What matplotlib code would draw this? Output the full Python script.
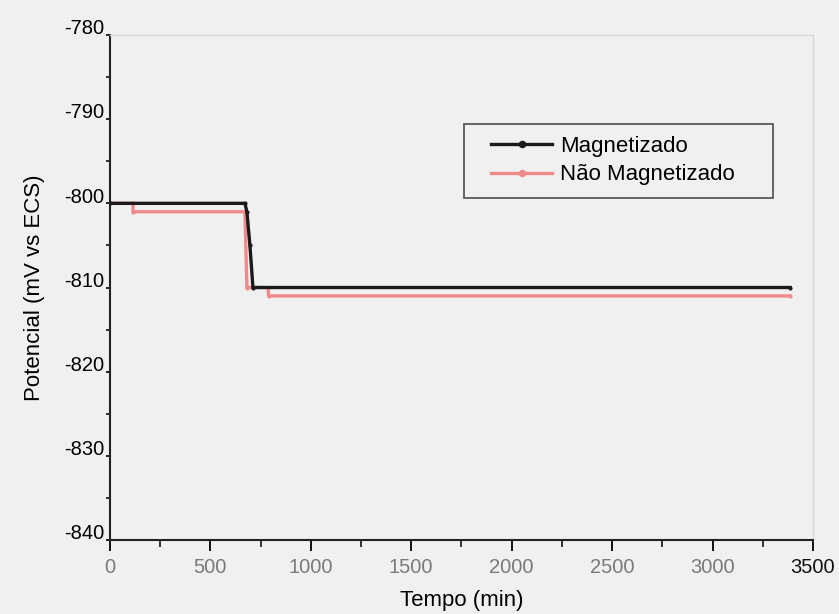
import matplotlib
matplotlib.use("Agg")
import matplotlib.pyplot as plt
import matplotlib.transforms as mtransforms
from matplotlib.ticker import MultipleLocator
from matplotlib.legend_handler import HandlerLine2D

plt.rcParams['font.family'] = ['Liberation Sans', 'DejaVu Sans']
plt.rcParams['axes.unicode_minus'] = False

# Vertices (time in min, potential in mV vs ECS)
t_mag = [0, 672, 682, 697, 712, 3386]
v_mag = [-800, -800, -801, -805, -810, -810]

t_nmag = [0, 115, 115, 672, 682, 787, 790, 3386]
v_nmag = [-800, -800, -801, -801, -810, -810, -811, -811]

x_ticks = [0, 500, 1000, 1500, 2000, 2500, 3000, 3500]
y_ticks = [-840, -830, -820, -810, -800, -790, -780]


class LeadHandler(HandlerLine2D):
    """Legend line that leaves a small gap on its left."""
    def get_xdata(self, legend, xdescent, ydescent, width, height, fontsize):
        lead = 0.2 * width
        x0 = -xdescent + lead
        x1 = -xdescent + width
        return [x0, x1], [0.5 * (x0 + x1)]


bg = '#f0f0f0'
fig = plt.figure(figsize=(8.39, 6.14), dpi=100, facecolor=bg)
ax = fig.add_axes([0.131, 0.1205, 0.838, 0.8225], facecolor=bg)

ax.plot(t_nmag, v_nmag, color='#f08a8a', lw=2.4, marker='o', ms=2,
        label='Não Magnetizado')
ax.plot(t_mag, v_mag, color='#1a1a1a', lw=2.4, marker='o', ms=2,
        label='Magnetizado')

ax.set_xlim(0, 3500)
ax.set_ylim(-840, -780)
ax.set_xticks(x_ticks)
ax.set_yticks(y_ticks)
ax.xaxis.set_minor_locator(MultipleLocator(250))
ax.yaxis.set_minor_locator(MultipleLocator(5))
ax.tick_params(axis='x', which='major', direction='out', length=8,
               width=1.3, labelsize=14.5, pad=5)
ax.tick_params(axis='x', which='minor', direction='out', length=5, width=1.1)
ax.tick_params(axis='y', which='major', direction='out', length=3,
               width=1.2, labelsize=14.5, pad=1)
ax.tick_params(axis='y', which='minor', direction='out', length=3, width=1.1)
for lab in ax.get_xticklabels():
    lab.set_color('#7a7a7a')
ax.get_xticklabels()[-1].set_color('#111111')

# y tick labels sit slightly above their ticks in the reference
offset = mtransforms.ScaledTranslation(0, 6 / 72, fig.dpi_scale_trans)
for lab in ax.get_yticklabels():
    lab.set_transform(lab.get_transform() + offset)

for s in ['left', 'bottom']:
    ax.spines[s].set_linewidth(1.5)
    ax.spines[s].set_color('#222222')
for s in ['top', 'right']:
    ax.spines[s].set_linewidth(1.0)
    ax.spines[s].set_color('#d8d8d8')

ax.set_xlabel('Tempo (min)', fontsize=16, labelpad=9)
ax.set_ylabel('Potencial (mV vs ECS)', fontsize=16, labelpad=14)

h, l = ax.get_legend_handles_labels()
h, l = h[::-1], l[::-1]
leg = ax.legend(h, l, loc='upper left',
                bbox_to_anchor=(0.5036, 0.4, 0.4395, 0.424), mode='expand',
                borderaxespad=0, fontsize=16, frameon=True,
                fancybox=False, edgecolor='#333333', facecolor=bg,
                handlelength=3.4, handletextpad=0.36, borderpad=0.55,
                labelspacing=0.33, markerscale=2.2,
                handler_map={hh: LeadHandler() for hh in h})
leg.get_frame().set_linewidth(1.3)

fig.savefig('out.png', dpi=100, facecolor=bg)
